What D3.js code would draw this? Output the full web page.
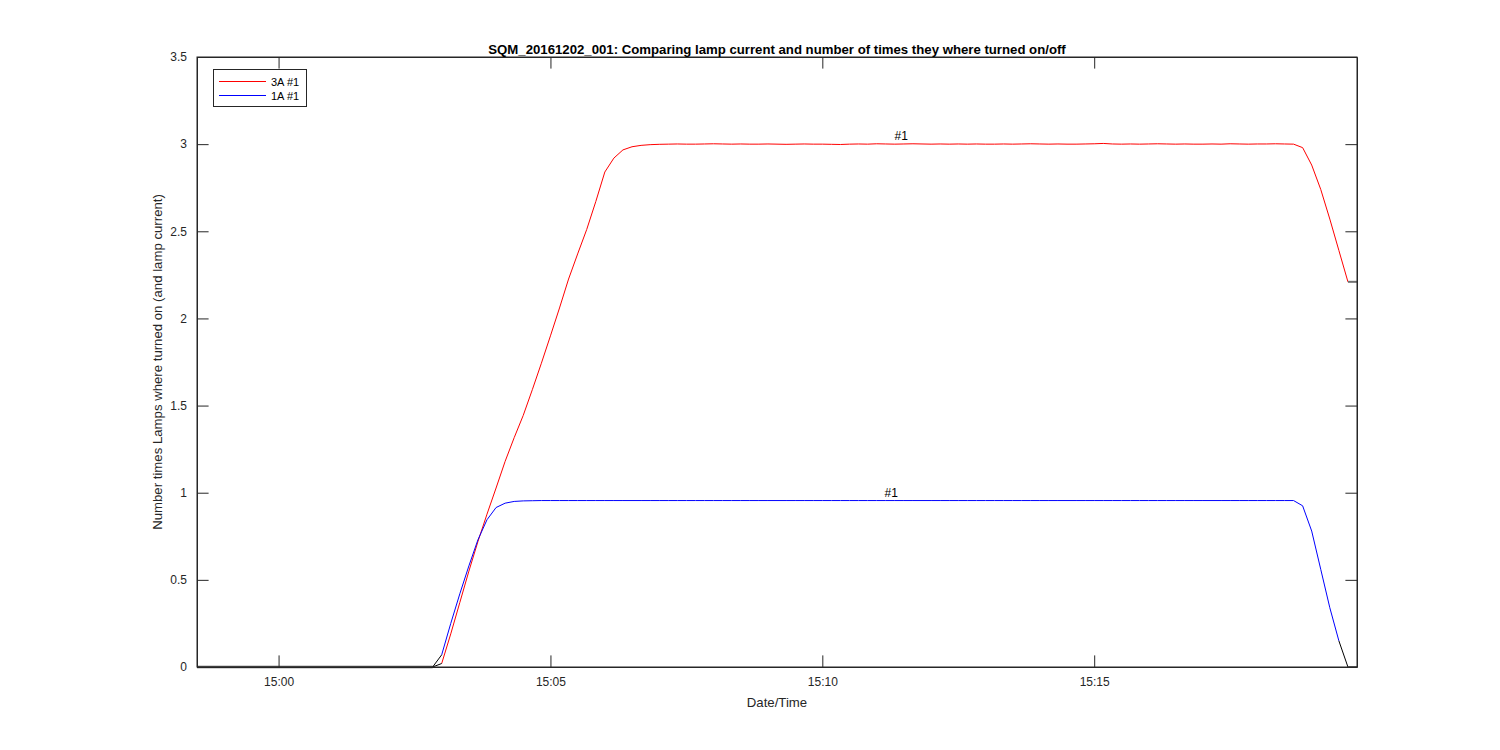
<!DOCTYPE html>
<html>
<head>
<meta charset="utf-8">
<script src="https://cdn.jsdelivr.net/npm/d3@7"></script>
<style>
  html, body { margin: 0; padding: 0; background: #fff; }
  svg { display: block; font-family: Arial, "Liberation Sans", Helvetica, sans-serif; }
</style>
</head>
<body>
<svg id="chart" width="1500" height="750"></svg>
<script>
// ---------- DATA ----------
const chartTitle = "SQM_20161202_001: Comparing lamp current and number of times they where turned on/off";
const xLabel = "Date/Time";
const yLabel = "Number times Lamps where turned on (and lamp current)";
const xDomain = ["14:58:30", "15:19:50"];
const yDomain = [0, 3.5];
const yTickValues = [0, 0.5, 1, 1.5, 2, 2.5, 3, 3.5];
const xTickValues = ["15:00", "15:05", "15:10", "15:15"];

const sampleTimes = [
  "15:03:00","15:03:10","15:03:20","15:03:30","15:03:40","15:03:50",
  "15:04:00","15:04:10","15:04:20","15:04:30","15:04:40","15:04:50",
  "15:05:00","15:05:10","15:05:20","15:05:30","15:05:40","15:05:50",
  "15:06:00","15:06:10","15:06:20","15:06:30","15:06:40","15:06:50",
  "15:07:00","15:07:10","15:07:20","15:07:30","15:07:40","15:07:50",
  "15:08:00","15:08:10","15:08:20","15:08:30","15:08:40","15:08:50",
  "15:09:00","15:09:10","15:09:20","15:09:30","15:09:40","15:09:50",
  "15:10:00","15:10:10","15:10:20","15:10:30","15:10:40","15:10:50",
  "15:11:00","15:11:10","15:11:20","15:11:30","15:11:40","15:11:50",
  "15:12:00","15:12:10","15:12:20","15:12:30","15:12:40","15:12:50",
  "15:13:00","15:13:10","15:13:20","15:13:30","15:13:40","15:13:50",
  "15:14:00","15:14:10","15:14:20","15:14:30","15:14:40","15:14:50",
  "15:15:00","15:15:10","15:15:20","15:15:30","15:15:40","15:15:50",
  "15:16:00","15:16:10","15:16:20","15:16:30","15:16:40","15:16:50",
  "15:17:00","15:17:10","15:17:20","15:17:30","15:17:40","15:17:50",
  "15:18:00","15:18:10","15:18:20","15:18:30","15:18:40","15:18:50",
  "15:19:00","15:19:10","15:19:20","15:19:30","15:19:40"
];

// 3A #1 (red)
const red3A = [
  0.02, 0.19, 0.37, 0.55, 0.72, 0.877,
  1.027, 1.18, 1.316, 1.444, 1.591, 1.743,
  1.90, 2.06, 2.226, 2.37, 2.51, 2.67,
  2.84, 2.92, 2.967, 2.985, 2.993, 2.997,
  2.999, 3.0, 3.001, 3.0, 3.0, 3.001,
  3.002, 3.001, 3.0, 3.001, 3.0, 3.0,
  3.001, 3.0, 2.999, 3.0, 3.001, 3.0,
  3.0, 2.999, 2.998, 3.0, 3.001, 3.0,
  3.002, 3.001, 3.0, 3.001, 3.002, 3.001,
  3.0, 3.001, 3.0, 3.001, 3.0, 3.001,
  3.0, 3.0, 3.001, 3.0, 3.001, 3.002,
  3.001, 3.0, 3.001, 3.0, 3.0, 3.001,
  3.002, 3.004, 3.001, 3.0, 3.001, 3.0,
  3.001, 3.002, 3.001, 3.0, 3.001, 3.0,
  3.0, 3.001, 3.0, 3.002, 3.001, 3.0,
  3.001, 3.001, 3.002, 3.001, 3.0, 2.98,
  2.88, 2.74, 2.57, 2.39, 2.21
];

// 1A #1 (blue) – last sample 15:19:30
const blue1A = [
  0.07, 0.25, 0.42, 0.58, 0.73, 0.845,
  0.915, 0.94, 0.95, 0.953, 0.954, 0.955,
  0.955, 0.955, 0.955, 0.955, 0.955, 0.955,
  0.955, 0.955, 0.955, 0.955, 0.955, 0.955,
  0.955, 0.955, 0.955, 0.955, 0.955, 0.955,
  0.955, 0.955, 0.955, 0.955, 0.955, 0.955,
  0.955, 0.955, 0.955, 0.955, 0.955, 0.955,
  0.955, 0.955, 0.955, 0.955, 0.955, 0.955,
  0.955, 0.955, 0.955, 0.955, 0.955, 0.955,
  0.955, 0.955, 0.955, 0.955, 0.955, 0.955,
  0.955, 0.955, 0.955, 0.955, 0.955, 0.955,
  0.955, 0.955, 0.955, 0.955, 0.955, 0.955,
  0.955, 0.955, 0.955, 0.955, 0.955, 0.955,
  0.955, 0.955, 0.955, 0.955, 0.955, 0.955,
  0.955, 0.955, 0.955, 0.955, 0.955, 0.955,
  0.955, 0.955, 0.955, 0.955, 0.955, 0.925,
  0.78, 0.56, 0.34, 0.15
];

// "off" state segments (black connectors, grey holds)
const offStartTimes = ["14:58:30", "15:02:50"];
const offStartValues = [0, 0];
const connectorsStart = [
  { times: ["15:02:50", "15:03:00"], values: [0, 0.02] },
  { times: ["15:02:50", "15:03:00"], values: [0, 0.07] }
];
const connectorsEnd = [
  { times: ["15:19:30", "15:19:40"], values: [0.15, 0] }
];
const holdsEnd = [
  { times: ["15:19:40", "15:19:50"], values: [2.21, 2.21] },
  { times: ["15:19:40", "15:19:50"], values: [0, 0] }
];

const legendLabels = ["3A #1", "1A #1"];
const seriesColors = ["#ff0000", "#0000ff"];
const annotations = [
  { label: "#1", time: "15:11:27", value: 3.0 },
  { label: "#1", time: "15:11:16", value: 0.955 }
];

// ---------- LAYOUT ----------
const margin = { left: 197, top: 57, right: 143, bottom: 83 };
const W = 1500, H = 750;
const iw = W - margin.left - margin.right;
const ih = H - margin.top - margin.bottom;
const axisColor = "#262626";
const tickLen = 11.6;

const parseT = d3.timeParse("%H:%M:%S");
const parseHM = d3.timeParse("%H:%M");

const svg = d3.select("#chart");
const g = svg.append("g").attr("transform", `translate(${margin.left},${margin.top})`);

const x = d3.scaleTime().domain(xDomain.map(parseT)).range([0, iw]);
const y = d3.scaleLinear().domain(yDomain).range([ih, 0]);

const line = d3.line().x(d => x(d.t)).y(d => y(d.v));
const toPts = (times, vals) => times.map((t, i) => ({ t: parseT(t), v: vals[i] }));

g.append("rect").attr("width", iw).attr("height", ih).attr("fill", "#fff");

// off baseline (grey, thicker look)
g.append("path").datum(toPts(offStartTimes, offStartValues))
  .attr("d", line).attr("fill", "none").attr("stroke", "#555").attr("stroke-width", 2.5);

// main series
g.append("path").datum(toPts(sampleTimes.slice(0, red3A.length), red3A))
  .attr("d", line).attr("fill", "none").attr("stroke", seriesColors[0]).attr("stroke-width", 1);
g.append("path").datum(toPts(sampleTimes.slice(0, blue1A.length), blue1A))
  .attr("d", line).attr("fill", "none").attr("stroke", seriesColors[1]).attr("stroke-width", 1);

// connectors
connectorsStart.concat(connectorsEnd).forEach(c => {
  g.append("path").datum(toPts(c.times, c.values))
    .attr("d", line).attr("fill", "none").attr("stroke", "#000").attr("stroke-width", 1);
});
holdsEnd.forEach(c => {
  g.append("path").datum(toPts(c.times, c.values))
    .attr("d", line).attr("fill", "none").attr("stroke", "#707070").attr("stroke-width", 2);
});

// annotations
annotations.forEach(a => {
  g.append("text").attr("x", x(parseT(a.time))).attr("y", y(a.value) - 4)
    .attr("text-anchor", "middle").attr("font-size", 12).attr("fill", "#000").text(a.label);
});

// ---------- AXES ----------
const xTicks = xTickValues.map(parseHM);
const fmt = d3.timeFormat("%H:%M");

const axB = g.append("g").attr("transform", `translate(0,${ih})`)
  .call(d3.axisBottom(x).tickValues(xTicks).tickFormat(fmt).tickSizeInner(-tickLen).tickSizeOuter(0).tickPadding(8));
const axT = g.append("g")
  .call(d3.axisTop(x).tickValues(xTicks).tickFormat("").tickSizeInner(-tickLen).tickSizeOuter(0));
const axL = g.append("g")
  .call(d3.axisLeft(y).tickValues(yTickValues).tickFormat(d3.format("")).tickSizeInner(-tickLen).tickSizeOuter(0).tickPadding(10));
const axR = g.append("g").attr("transform", `translate(${iw},0)`)
  .call(d3.axisRight(y).tickValues(yTickValues).tickFormat("").tickSizeInner(-tickLen).tickSizeOuter(0));

[axB, axT, axL, axR].forEach(a => {
  a.select(".domain").attr("stroke", axisColor);
  a.selectAll(".tick line").attr("stroke", axisColor);
  a.selectAll(".tick text").attr("fill", axisColor).attr("font-size", 12)
    .attr("font-family", "Arial, 'Liberation Sans', sans-serif");
});
axB.selectAll(".tick text").attr("dy", "0.9em");

g.append("rect").attr("width", iw).attr("height", ih).attr("fill", "none")
  .attr("stroke", axisColor).attr("stroke-width", 1);

// labels
svg.append("text").attr("x", margin.left + iw / 2).attr("y", 54)
  .attr("text-anchor", "middle").attr("font-size", 13.2).attr("font-weight", "bold")
  .attr("fill", "#000").text(chartTitle);
svg.append("text").attr("x", margin.left + iw / 2).attr("y", 707)
  .attr("text-anchor", "middle").attr("font-size", 13.2).attr("fill", axisColor).text(xLabel);
svg.append("text").attr("transform", `translate(162,${margin.top + ih / 2}) rotate(-90)`)
  .attr("text-anchor", "middle").attr("font-size", 13.2).attr("fill", axisColor).text(yLabel);

// ---------- LEGEND ----------
const lg = svg.append("g").attr("transform", "translate(213,69)");
lg.append("rect").attr("x", 0.5).attr("y", 0.5).attr("width", 93).attr("height", 37)
  .attr("fill", "#fff").attr("stroke", axisColor).attr("stroke-width", 1);
legendLabels.forEach((lab, i) => {
  const yy = 12.5 + i * 14;
  lg.append("line").attr("x1", 6).attr("x2", 53).attr("y1", yy).attr("y2", yy)
    .attr("stroke", seriesColors[i]).attr("stroke-width", 1);
  lg.append("text").attr("x", 58).attr("y", yy + 4).attr("font-size", 11)
    .attr("fill", "#000").text(lab);
});
</script>
</body>
</html>
